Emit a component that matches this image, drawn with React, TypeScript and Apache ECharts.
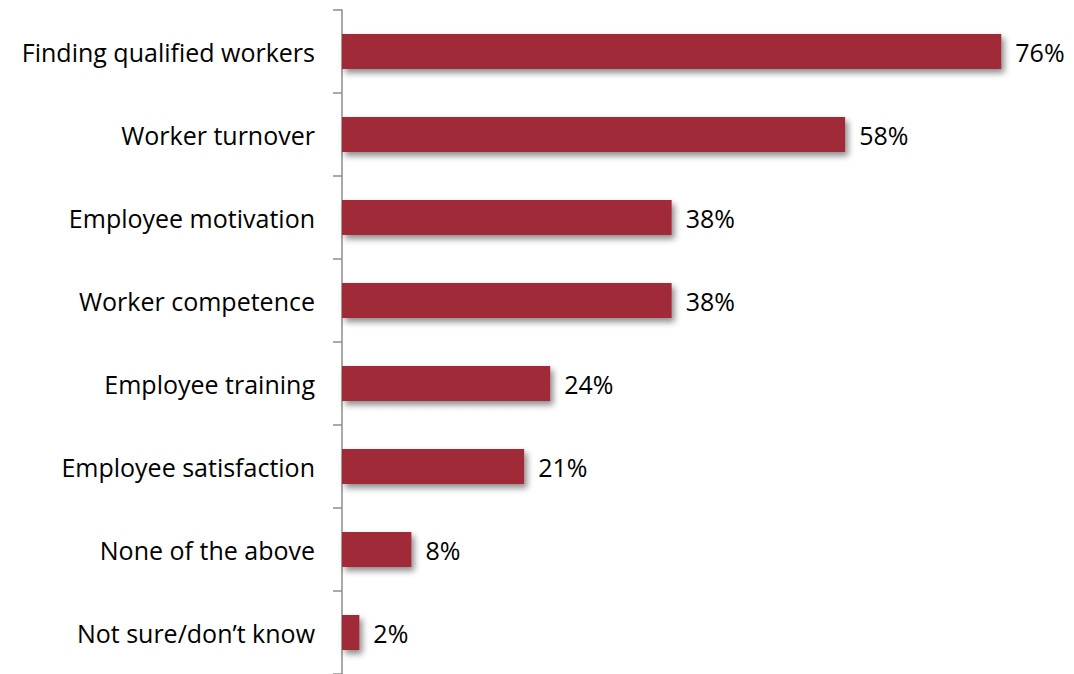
import React, { useEffect, useRef } from "react";
import * as echarts from "echarts";

const categories = [
  "Finding qualified workers",
  "Worker turnover",
  "Employee motivation",
  "Worker competence",
  "Employee training",
  "Employee satisfaction",
  "None of the above",
  "Not sure/don\u2019t know",
];
const values = [76, 58, 38, 38, 24, 21, 8, 2];

export default function App() {
  const ref = useRef<HTMLDivElement>(null);
  useEffect(() => {
    const chart = echarts.init(ref.current!, null, { renderer: "svg" });
    chart.setOption({
      animation: false,
      grid: { left: 342, top: 10, width: 694, height: 664 },
      xAxis: {
        type: "value",
        min: 0,
        max: 80,
        show: false,
      },
      yAxis: {
        type: "category",
        data: categories,
        inverse: true,
        axisLine: { show: true, lineStyle: { color: "#8c8c8c", width: 1.5 } },
        axisTick: { show: true, length: 9, lineStyle: { color: "#8c8c8c", width: 1.5 } },
        axisLabel: {
          margin: 27,
          color: "#000",
          fontSize: 25,
          fontFamily: "Open Sans",
        },
        splitLine: { show: false },
      },
      series: [
        {
          type: "bar",
          data: values,
          barWidth: 35,
          itemStyle: {
            color: "#A12939",
            shadowColor: "rgba(0,0,0,0.45)",
            shadowBlur: 6,
            shadowOffsetX: 3,
            shadowOffsetY: 4,
          },
          label: {
            show: true,
            position: "right",
            distance: 14,
            formatter: "{c}%",
            color: "#000",
            fontSize: 25,
            fontFamily: "Open Sans",
          },
        },
      ],
    });
    return () => chart.dispose();
  }, []);
  return <div ref={ref} style={{ width: 1074, height: 674, position: "absolute", left: 0, top: 0 }} />;
}
